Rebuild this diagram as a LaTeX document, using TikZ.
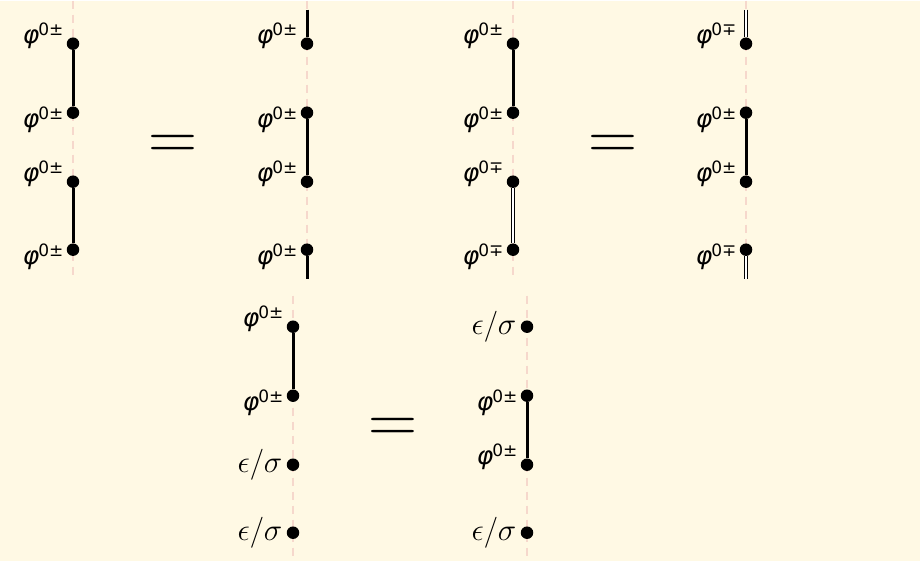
\RequirePackage{fix-cm}
\documentclass[tikz,border=0pt]{standalone}
\usepackage{fontspec}
\usepackage{xcolor}
\usetikzlibrary{positioning, calc}
\newfontfamily\labfont{DejaVu Sans}
\definecolor{PaperCream}{HTML}{FFF9E4}
\definecolor{GuidePink}{HTML}{F6D8CC}
\newcommand{\phipm}{{\labfont\fontsize{25}{25}\selectfont\itshape φ\upshape\hspace{-1pt}\raisebox{8pt}{\fontsize{17}{17}\selectfont 0±}}}
\newcommand{\phimp}{{\labfont\fontsize{25}{25}\selectfont\itshape φ\upshape\hspace{-1pt}\raisebox{8pt}{\fontsize{17}{17}\selectfont 0∓}}}
\newcommand{\epsig}{{\fontsize{31}{31}\selectfont$\epsilon/\sigma$}}
\tikzset{
    % Field insertion dot
    dot/.style={
        circle,
        fill=black,
        minimum size=12.5pt,
        inner sep=0pt
    },
    % Dashed guide line
    guide/.style={
        draw=GuidePink,
        line width=1.4pt,
        dash pattern=on 8pt off 6pt
    },
    % Solid propagator
    prop/.style={
        line width=3pt,
        color=black
    },
    % Conjugate propagator (hollow)
    cprop/.style={
        line width=0.9pt,
        double=white,
        double distance=2.4pt,
        color=black
    },
    % Label raised to the left
    labup/.style={
        inner sep=1pt,
        left=2pt of #1,
        yshift=8pt
    },
    % Label lowered to the left
    labdown/.style={
        inner sep=1pt,
        left=2pt of #1,
        yshift=-7pt
    },
    % Label level to the left
    lablevel/.style={
        inner sep=1pt,
        left=3pt of #1
    },
    % Equality sign
    eqsign/.style={
        font=\fontsize{68}{68}\selectfont,
        inner sep=0pt
    }
}
\begin{document}
\begin{tikzpicture}[x=1pt, y=-1pt]
        % Background
        \fill [PaperCream] (0,0) rectangle (920,560);

        % Guide lines
        \draw [guide] (73,0) -- (73,278);
        \draw [guide] (307,0) -- (307,278);
        \draw [guide] (513,0) -- (513,278);
        \draw [guide] (746,0) -- (746,278);
        \draw [guide] (293,295) -- (293,560);
        \draw [guide] (527,295) -- (527,560);

        % First column
        \node (a1) [dot] at (73,43) {};
        \node (a2) [dot] at (73,112) {};
        \node (a3) [dot] at (73,181) {};
        \node (a4) [dot] at (73,249) {};
        \node (la1) [labup=a1] {\phipm};
        \node (la2) [labdown=a2] {\phipm};
        \node (la3) [labup=a3] {\phipm};
        \node (la4) [labdown=a4] {\phipm};
        \draw [prop] (a1) -- (a2);
        \draw [prop] (a3) -- (a4);

        \node (eq1) [eqsign] at (173,147) {=};

        % Second column
        \coordinate (btop) at (307,9);
        \coordinate (bbot) at (307,278);
        \node (b1) [dot] at (307,43) {};
        \node (b2) [dot] at (307,112) {};
        \node (b3) [dot] at (307,181) {};
        \node (b4) [dot] at (307,249) {};
        \node (lb1) [labup=b1] {\phipm};
        \node (lb2) [labdown=b2] {\phipm};
        \node (lb3) [labup=b3] {\phipm};
        \node (lb4) [labdown=b4] {\phipm};
        \draw [prop] (btop) -- (b1);
        \draw [prop] (b2) -- (b3);
        \draw [prop] (b4) -- (bbot);

        % Third column
        \node (c1) [dot] at (513,43) {};
        \node (c2) [dot] at (513,112) {};
        \node (c3) [dot] at (513,181) {};
        \node (c4) [dot] at (513,249) {};
        \node (lc1) [labup=c1] {\phipm};
        \node (lc2) [labdown=c2] {\phipm};
        \node (lc3) [labup=c3] {\phimp};
        \node (lc4) [labdown=c4] {\phimp};
        \draw [prop] (c1) -- (c2);
        \draw [cprop] (c3) -- (c4);

        \node (eq2) [eqsign] at (613,147) {=};

        % Fourth column
        \coordinate (dtop) at (746,9);
        \coordinate (dbot) at (746,278);
        \node (d1) [dot] at (746,43) {};
        \node (d2) [dot] at (746,112) {};
        \node (d3) [dot] at (746,181) {};
        \node (d4) [dot] at (746,249) {};
        \node (ld1) [labup=d1] {\phimp};
        \node (ld2) [labdown=d2] {\phipm};
        \node (ld3) [labup=d3] {\phipm};
        \node (ld4) [labdown=d4] {\phimp};
        \draw [cprop] (dtop) -- (d1);
        \draw [prop] (d2) -- (d3);
        \draw [cprop] (d4) -- (dbot);

        % Bottom left column
        \node (e1) [dot] at (293,326) {};
        \node (e2) [dot] at (293,395) {};
        \node (e3) [dot] at (293,464) {};
        \node (e4) [dot] at (293,532) {};
        \node (le1) [labup=e1] {\phipm};
        \node (le2) [labdown=e2] {\phipm};
        \node (le3) [lablevel=e3] {\epsig};
        \node (le4) [lablevel=e4] {\epsig};
        \draw [prop] (e1) -- (e2);

        \node (eq3) [eqsign] at (393,430) {=};

        % Bottom right column
        \node (f1) [dot] at (527,326) {};
        \node (f2) [dot] at (527,395) {};
        \node (f3) [dot] at (527,464) {};
        \node (f4) [dot] at (527,532) {};
        \node (lf1) [lablevel=f1] {\epsig};
        \node (lf2) [labdown=f2] {\phipm};
        \node (lf3) [labup=f3] {\phipm};
        \node (lf4) [lablevel=f4] {\epsig};
        \draw [prop] (f2) -- (f3);
\end{tikzpicture}
\end{document}
